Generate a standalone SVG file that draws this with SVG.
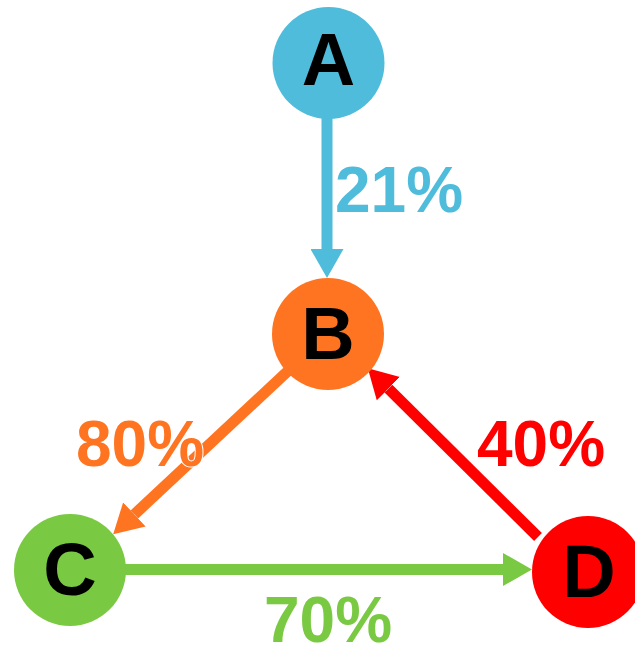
<svg xmlns="http://www.w3.org/2000/svg" width="635" height="646" viewBox="0 0 635 646">
<style>
.node{font-family:"Liberation Sans",Arial,sans-serif;font-weight:bold;font-size:74px;fill:#000;text-anchor:middle}
.lbl{font-family:"Liberation Sans",Arial,sans-serif;font-weight:bold;font-size:64px;stroke:#fff;stroke-width:2;paint-order:stroke}
.edge{stroke-width:11;fill:none}
</style>
<defs>
<marker id="hb" markerUnits="userSpaceOnUse" markerWidth="29" markerHeight="33" refX="0" refY="16.5" orient="auto" viewBox="0 0 29 33"><path d="M0,0 L29,16.5 L0,33 z" fill="#4FBCDC"/></marker>
<marker id="ho" markerUnits="userSpaceOnUse" markerWidth="29" markerHeight="33" refX="0" refY="16.5" orient="auto" viewBox="0 0 29 33"><path d="M0,0 L29,16.5 L0,33 z" fill="#FF7420"/></marker>
<marker id="hg" markerUnits="userSpaceOnUse" markerWidth="29" markerHeight="33" refX="0" refY="16.5" orient="auto" viewBox="0 0 29 33"><path d="M0,0 L29,16.5 L0,33 z" fill="#7AC943"/></marker>
<marker id="hr" markerUnits="userSpaceOnUse" markerWidth="29" markerHeight="33" refX="0" refY="16.5" orient="auto" viewBox="0 0 29 33"><path d="M0,0 L29,16.5 L0,33 z" fill="#FF0000"/></marker>
</defs>
<rect width="635" height="646" fill="#fff"/>
<g id="connectors">
<line class="edge" x1="327" y1="115" x2="327" y2="249" stroke="#4FBCDC" marker-end="url(#hb)"/>
<line class="edge" x1="289" y1="370" x2="134.4" y2="514.4" stroke="#FF7420" marker-end="url(#ho)"/>
<line class="edge" x1="122" y1="569.5" x2="503" y2="569.5" stroke="#7AC943" marker-end="url(#hg)"/>
<line class="edge" x1="538" y1="537" x2="388.4" y2="388.6" stroke="#FF0000" marker-end="url(#hr)"/>
</g>
<g id="node-A"><circle cx="328.5" cy="63" r="56" fill="#4FBCDC"/><text class="node" x="328.5" y="85">A</text></g>
<g id="node-B"><circle cx="328" cy="334" r="56" fill="#FF7420"/><text class="node" x="328" y="359">B</text></g>
<g id="node-C"><circle cx="70" cy="570" r="56" fill="#7AC943"/><text class="node" x="70" y="595">C</text></g>
<g id="node-D"><circle cx="588" cy="572" r="56" fill="#FF0000"/><text class="node" x="589" y="597">D</text></g>
<g id="labels">
<text class="lbl" x="335" y="212" fill="#4FBCDC">21%</text>
<text class="lbl" x="76" y="466" fill="#FF7420">80%</text>
<text class="lbl" x="477" y="466" fill="#FF0000">40%</text>
<text class="lbl" x="264" y="642" fill="#7AC943">70%</text>
</g>
</svg>
